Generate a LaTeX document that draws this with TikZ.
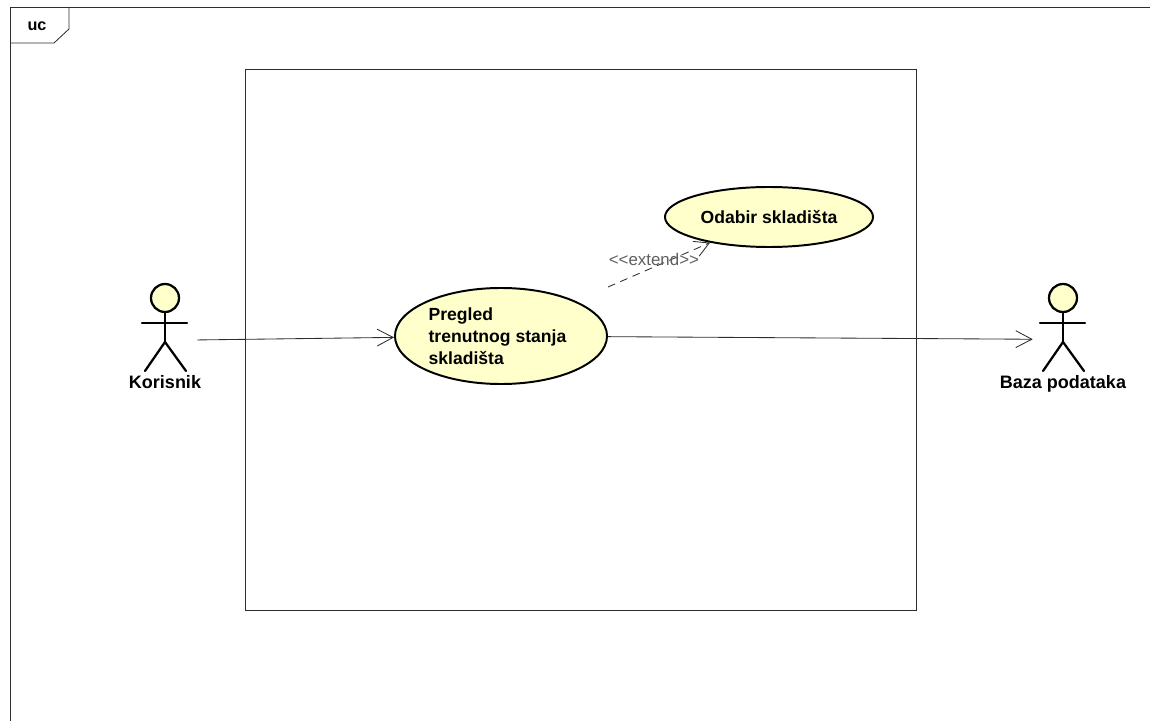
\documentclass[tikz,border=0pt]{standalone}
\usepackage{fontspec}
\setmainfont{Liberation Sans}
\usetikzlibrary{shapes.geometric, arrows.meta, positioning}
\definecolor{ucyellow}{RGB}{255,255,204}
\definecolor{lineblack}{RGB}{45,45,45}
\definecolor{labelgray}{RGB}{95,95,95}

\begin{document}
\begin{tikzpicture}[
  x=0.025cm, y=-0.025cm,
  usecase/.style={ellipse, draw=black, line width=1.4pt, fill=ucyellow,
                  inner sep=0pt, font=\fontsize{12.5}{15.6}\selectfont\bfseries},
  actorbox/.style={rectangle, minimum height=2.2cm, inner sep=0pt},
  actorlabel/.style={font=\fontsize{12.8}{14}\selectfont\bfseries, inner sep=2pt},
  stick/.style={line width=1.6pt, line cap=round},
  frame/.style={draw=lineblack, line width=0.6pt},
  arr/.style={-{Straight Barb[length=4mm, width=4.2mm]}, line width=0.6pt, lineblack},
  extarr/.style={-{Straight Barb[length=3.6mm, width=4mm]}, line width=0.6pt,
                 dash pattern=on 5.5pt off 4pt, lineblack},
]
\useasboundingbox (0,0) rectangle (1150,721);

% Frame
\draw[frame] (1150,7) -- (10,7) -- (10,721);
\draw[frame] (10,43) -- (54,43) -- (69,29) -- (69,7);
\node[font=\fontsize{11.5}{13}\selectfont\bfseries] (uc) at (37,26) {uc};

% System boundary
\draw[frame] (245,69) rectangle (916,610);

% Actors
\foreach \ax in {165, 1063} {
  \draw[stick, fill=ucyellow] (\ax,298) circle (14);
  \draw[stick] (\ax,312) -- (\ax,342);
  \draw[stick] (\ax-23,323) -- (\ax+22,323);
  \draw[stick] (\ax-20,371) -- (\ax,342) -- (\ax+21,371);
}
\node[actorbox, minimum width=1.6cm] (korisnik) at (165,328) {};
\node[actorbox, minimum width=1.5cm] (baza) at (1063,328) {};
\node[actorlabel, below=0pt of korisnik] (korisnikLbl) {Korisnik};
\node[actorlabel, below=0pt of baza] (bazaLbl) {Baza podataka};

% Use cases
\node[usecase, minimum width=5.3cm, minimum height=2.4cm, align=left] (pregled)
  at (501,336) {Pregled\\trenutnog stanja\kern5pt\\skladišta};
\node[usecase, minimum width=5.2cm, minimum height=1.5cm] (odabir)
  at (769,217) {Odabir skladišta};

% Associations
\draw[arr] ([yshift=-8.5pt]korisnik.east) -- (pregled);
\draw[arr] (pregled) -- ([yshift=-8pt]baza.west);
\draw[extarr] (pregled.north -| pregled.east) -- node[pos=0.45, above, inner sep=1pt,
  font=\fontsize{12}{14}\selectfont, text=labelgray]
  {<\kern0pt<extend>\kern0pt>} (odabir);

\end{tikzpicture}
\end{document}
